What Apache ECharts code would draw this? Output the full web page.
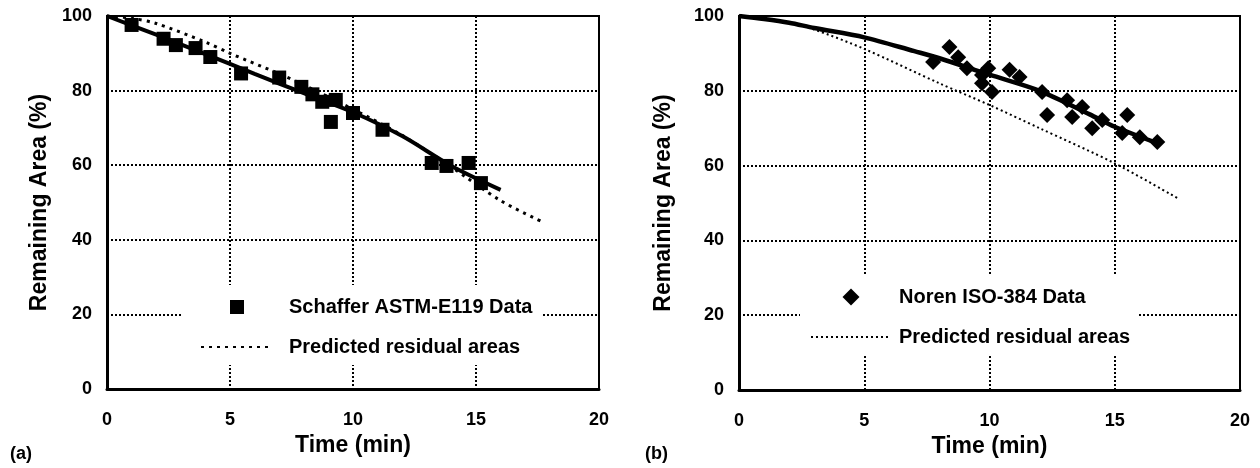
<!DOCTYPE html>
<html>
<head>
<meta charset="utf-8">
<script src="https://cdn.jsdelivr.net/npm/echarts@6/dist/echarts.min.js"></script>
<style>
  html, body { margin: 0; padding: 0; background: #fff; }
  #chart { width: 1260px; height: 468px; }
</style>
</head>
<body>
<div id="chart"></div>
<script>
  // (a) Schaffer ASTM-E119 data
  const schafferTime = [1.0, 2.3, 2.8, 3.6, 4.2, 5.45, 7.0, 7.9, 8.35, 8.75, 9.3, 9.1, 10.0, 11.2, 13.2, 13.8, 14.7, 15.2]
  const schafferArea = [97.6, 93.9, 92.2, 91.4, 89.0, 84.6, 83.5, 81.0, 79.0, 77.0, 77.5, 71.6, 74.0, 69.5, 60.6, 59.8, 60.6, 55.2]
  const fitTimeA = [0, 2, 4, 6, 8, 10, 12, 14, 16]
  const fitAreaA = [100, 95, 89.8, 84.5, 79.3, 74.2, 67.8, 59.8, 53.4]
  const predTimeA = [0, 1, 2, 4, 5, 7, 8, 10, 12, 14, 16, 17.7]
  const predAreaA = [100, 99.4, 98, 93, 90, 84.5, 81.5, 75, 68, 59.5, 50.5, 44.8]

  // (b) Noren ISO-384 data
  const norenTime = [7.75, 8.4, 8.75, 9.1, 9.7, 9.95, 9.7, 10.1, 10.8, 11.2, 12.1, 12.3, 13.1, 13.7, 13.3, 14.1, 14.5, 15.5, 15.3, 16.0, 16.7]
  const norenArea = [87.7, 91.7, 89.0, 86.0, 84.2, 86.0, 82.0, 79.7, 85.6, 83.7, 79.7, 73.5, 77.5, 75.7, 73.0, 70.0, 72.2, 73.5, 68.7, 67.6, 66.3]
  const fitTimeB = [0, 1, 2, 3, 5, 7, 8, 10, 12, 14, 15, 16.7]
  const fitAreaB = [100, 99.2, 98.2, 96.8, 94.3, 90.6, 88.7, 84.3, 80.0, 73.7, 70.4, 66.0]
  const predTimeB = [0, 1, 2, 3, 5, 8, 10, 12, 15, 17.5]
  const predAreaB = [100, 99.4, 98.3, 96.4, 91.2, 82.0, 76.2, 70.0, 60.6, 51.3]

  const font = 'Liberation Sans, Arial, sans-serif'
  const pairs = (xs, ys) => xs.map((x, i) => [x, ys[i]])

  const gridLine = { show: true, lineStyle: { color: '#000', type: [2, 2], width: 2 } }
  const titleStyle = { fontFamily: font, fontWeight: 'bold', fontSize: 23, color: '#000' }
  const tickStyle = { fontFamily: font, fontWeight: 'bold', fontSize: 18, color: '#000' }

  function xAxis(gridIndex) {
    return {
      gridIndex: gridIndex, type: 'value', min: 0, max: 20, interval: 5,
      name: 'Time (min)', nameLocation: 'middle', nameGap: 45,
      nameTextStyle: titleStyle,
      axisLine: { lineStyle: { color: '#000', width: 3 } },
      axisTick: { show: false },
      axisLabel: Object.assign({ margin: 22 }, tickStyle),
      splitLine: gridLine
    }
  }
  function yAxis(gridIndex, gap) {
    return {
      gridIndex: gridIndex, type: 'value', min: 0, max: 100, interval: 20,
      name: 'Remaining Area (%)', nameLocation: 'middle', nameGap: gap,
      nameTextStyle: titleStyle,
      axisLine: { show: true, lineStyle: { color: '#000', width: 3 } },
      axisTick: { show: false },
      axisLabel: Object.assign({ margin: 15 }, tickStyle),
      splitLine: gridLine
    }
  }

  const legendText = { fontFamily: font, fontWeight: 'bold', fontSize: 20, color: '#000', lineHeight: 20 }
  const noMarker = { color: 'rgba(0,0,0,0)', borderWidth: 0 }

  const option = {
    animation: false,
    title: [
      { text: '(a)', left: 5, top: 440, textStyle: { fontFamily: font, fontWeight: 'bold', fontSize: 18, color: '#000' } },
      { text: '(b)', left: 640, top: 440, textStyle: { fontFamily: font, fontWeight: 'bold', fontSize: 18, color: '#000' } }
    ],
    grid: [
      { left: 107, top: 16, width: 492, height: 373, show: true, borderColor: '#000', borderWidth: 2 },
      { left: 739, top: 16, width: 501, height: 374, show: true, borderColor: '#000', borderWidth: 2 }
    ],
    legend: [
      {
        orient: 'vertical', left: 183, top: 285, padding: [12, 9, 8, 17],
        backgroundColor: '#fff', itemWidth: 72, itemHeight: 14, itemGap: 20,
        symbolKeepAspect: true, selectedMode: false,
        textStyle: Object.assign({ padding: [0, 0, 0, 11] }, legendText),
        data: [
          { name: 'Schaffer ASTM-E119 Data', icon: 'path://M0,0H1V1H0Z' },
          { name: 'Predicted residual areas', itemStyle: noMarker }
        ]
      },
      {
        orient: 'vertical', left: 800, top: 274, padding: [13, 2, 8, 10],
        backgroundColor: '#fff', itemWidth: 80, itemHeight: 17, itemGap: 20,
        symbolKeepAspect: true, selectedMode: false,
        textStyle: Object.assign({ padding: [0, 0, 0, 3] }, legendText),
        data: [
          { name: 'Noren ISO-384 Data', icon: 'path://M1,0L2,1L1,2L0,1Z' },
          { name: 'Predicted residual areas ', itemStyle: noMarker }
        ]
      }
    ],
    xAxis: [xAxis(0), xAxis(1)],
    yAxis: [yAxis(0, 56), yAxis(1, 64)],
    series: [
      {
        name: 'Predicted residual areas', type: 'line', xAxisIndex: 0, yAxisIndex: 0,
        data: pairs(predTimeA, predAreaA), smooth: 0.3, symbol: 'none',
        lineStyle: { color: '#000', width: 3, type: [3, 5] }, itemStyle: { color: '#000' }, z: 3
      },
      {
        name: 'fitA', type: 'line', xAxisIndex: 0, yAxisIndex: 0,
        data: pairs(fitTimeA, fitAreaA), smooth: 0.3, symbol: 'none',
        lineStyle: { color: '#000', width: 4 }, z: 4
      },
      {
        name: 'Schaffer ASTM-E119 Data', type: 'scatter', xAxisIndex: 0, yAxisIndex: 0,
        data: pairs(schafferTime, schafferArea), symbol: 'rect', symbolSize: 14,
        itemStyle: { color: '#000', opacity: 1 }, z: 5
      },
      {
        name: 'Predicted residual areas ', type: 'line', xAxisIndex: 1, yAxisIndex: 1,
        data: pairs(predTimeB, predAreaB), smooth: 0.3, symbol: 'none',
        lineStyle: { color: '#000', width: 2, type: [2, 3] }, itemStyle: { color: '#000' }, z: 3
      },
      {
        name: 'fitB', type: 'line', xAxisIndex: 1, yAxisIndex: 1,
        data: pairs(fitTimeB, fitAreaB), smooth: 0.3, symbol: 'none',
        lineStyle: { color: '#000', width: 4.5 }, z: 4
      },
      {
        name: 'Noren ISO-384 Data', type: 'scatter', xAxisIndex: 1, yAxisIndex: 1,
        data: pairs(norenTime, norenArea), symbol: 'diamond', symbolSize: 16,
        itemStyle: { color: '#000', opacity: 1 }, z: 5
      }
    ]
  }

  const chart = echarts.init(document.getElementById('chart'))
  chart.setOption(option)
</script>
</body>
</html>
